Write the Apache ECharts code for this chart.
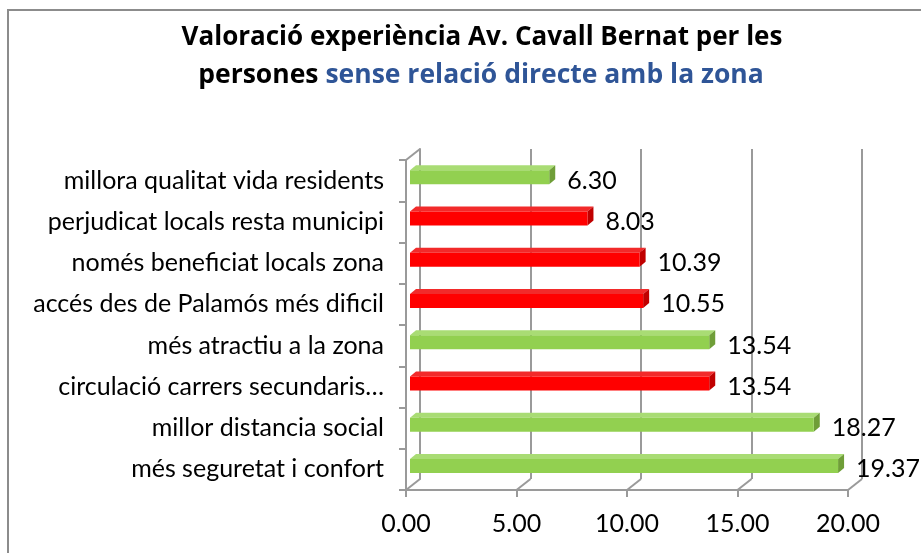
<!DOCTYPE html>
<html>
<head>
<meta charset="utf-8">
<script src="https://cdn.jsdelivr.net/npm/echarts@6/dist/echarts.min.js"></script>
<style>
  html, body { margin: 0; padding: 0; background: #fff; }
  #main { width: 921px; height: 553px; }
</style>
</head>
<body>
<div id="main"></div>
<script>
var categories = [
  "millora qualitat vida residents",
  "perjudicat locals resta municipi",
  "només beneficiat locals zona",
  "accés des de Palamós més dificil",
  "més atractiu a la zona",
  "circulació carrers secundaris…",
  "millor distancia social",
  "més seguretat i confort"
];
var values = [6.30, 8.03, 10.39, 10.55, 13.54, 13.54, 18.27, 19.37];
// 0 = positive (green), 1 = negative (red)
var kinds = [0, 1, 1, 1, 0, 1, 0, 0];
var xTicks = [0, 5, 10, 15, 20];

var FONT = "Lato";
var TITLE_FONT = "Open Sans";
var palette = [
  { front: "#92D050", top: "#a9dc74", side: "#6f9e38" },
  { front: "#FF0000", top: "#f22a2a", side: "#c00000" }
];
// depth offset of the back wall
var DX = 14, DY = -11;

var barData = values.map(function (v, i) {
  return [v, i, kinds[i]];
});
var floorData = xTicks.map(function (t) {
  return [t, 0];
});

function renderBar(params, api) {
  var val = api.value(0);
  var cat = api.value(1);
  var c = palette[api.value(2)];
  var s = api.coord([0, cat]);
  var e = api.coord([val, cat]);
  var cy = s[1];
  var x0 = s[0] + 4, x1 = e[0] + 4;
  var y0 = cy - 10.5, y1 = cy + 3.5;
  var dx = 6, dy = -5;
  return {
    type: "group",
    children: [
      {
        type: "polygon",
        shape: { points: [[x0, y0], [x1, y0], [x1 + dx, y0 + dy], [x0 + dx, y0 + dy]] },
        style: { fill: c.top }
      },
      {
        type: "polygon",
        shape: { points: [[x1, y0], [x1 + dx, y0 + dy], [x1 + dx, y1 + dy], [x1, y1]] },
        style: { fill: c.side }
      },
      {
        type: "rect",
        shape: { x: x0, y: y0, width: x1 - x0, height: y1 - y0 },
        style: { fill: c.front }
      },
      {
        type: "text",
        style: {
          x: x1 + dx + 12,
          y: cy,
          text: val.toFixed(2),
          fill: "#000",
          font: "25px " + FONT,
          verticalAlign: "middle",
          align: "left"
        }
      }
    ]
  };
}

function renderFloor(params, api) {
  var p = api.coord([api.value(0), 0]);
  var cs = params.coordSys;
  var bottom = cs.y + cs.height;
  var lineStyle = { stroke: "#9a9a9a", lineWidth: 2 };
  var children = [
    {
      type: "line",
      shape: { x1: p[0], y1: bottom, x2: p[0] + DX, y2: bottom + DY },
      style: lineStyle
    }
  ];
  if (api.value(0) === 0) {
    children.push({
      type: "line",
      shape: { x1: p[0], y1: cs.y, x2: p[0] + DX, y2: cs.y + DY },
      style: lineStyle
    });
  }
  return { type: "group", children: children };
}

var chart = echarts.init(document.getElementById("main"));

var option = {
  animation: false,
  backgroundColor: "#fff",
  textStyle: { fontFamily: FONT },
  graphic: [
    {
      type: "rect",
      shape: { x: 8, y: 10, width: 1000, height: 1000 },
      style: { fill: "none", stroke: "#8c8c8c", lineWidth: 2 },
      silent: true
    },
    {
      type: "text",
      x: 482,
      y: 38,
      style: {
        text: "Valoració experiència Av. Cavall Bernat per les",
        font: "bold 26px '" + TITLE_FONT + "'",
        fill: "#000",
        align: "center",
        verticalAlign: "middle"
      }
    },
    {
      type: "text",
      x: 481,
      y: 75,
      style: {
        text: "{k|persones }{b|sense relació directe amb la zona}",
        align: "center",
        verticalAlign: "middle",
        rich: {
          k: { fontFamily: TITLE_FONT, fontWeight: "bold", fontSize: 26.5, fill: "#000" },
          b: { fontFamily: TITLE_FONT, fontWeight: "bold", fontSize: 26.5, fill: "#2F5597" }
        }
      }
    }
  ],
  grid: [
    { left: 406, right: 73, top: 160, bottom: 63 },
    { left: 420, right: 59, top: 149, bottom: 74 }
  ],
  xAxis: [
    {
      gridIndex: 0,
      type: "value",
      min: 0,
      max: 20,
      interval: 5,
      axisLine: { show: true, lineStyle: { color: "#9a9a9a", width: 2 } },
      axisTick: { show: true, length: 7, lineStyle: { color: "#9a9a9a", width: 2 } },
      splitLine: { show: false },
      axisLabel: {
        margin: 21,
        fontSize: 25,
        fontFamily: FONT,
        color: "#000",
        formatter: function (v) { return v.toFixed(2); }
      }
    },
    {
      gridIndex: 1,
      type: "value",
      min: 0,
      max: 20,
      interval: 5,
      axisLine: { show: false },
      axisTick: { show: false },
      axisLabel: { show: false },
      splitLine: { show: true, lineStyle: { color: "#9a9a9a", width: 2 } }
    }
  ],
  yAxis: [
    {
      gridIndex: 0,
      type: "category",
      inverse: true,
      data: categories,
      axisLine: { show: true, lineStyle: { color: "#9a9a9a", width: 2 } },
      axisTick: { show: true, length: 7, lineStyle: { color: "#9a9a9a", width: 2 } },
      axisLabel: {
        margin: 22,
        fontSize: 25,
        fontFamily: FONT,
        color: "#000"
      }
    },
    {
      gridIndex: 1,
      type: "category",
      inverse: true,
      data: categories,
      axisLine: { show: true, lineStyle: { color: "#9a9a9a", width: 2 } },
      axisTick: { show: false },
      axisLabel: { show: false },
      splitLine: { show: false }
    }
  ],
  series: [
    {
      type: "custom",
      name: "floor",
      xAxisIndex: 0,
      yAxisIndex: 0,
      data: floorData,
      encode: { x: 0, y: 1 },
      renderItem: renderFloor,
      silent: true,
      z: 1
    },
    {
      type: "custom",
      name: "valoració",
      xAxisIndex: 0,
      yAxisIndex: 0,
      data: barData,
      encode: { x: 0, y: 1 },
      renderItem: renderBar,
      z: 5
    }
  ]
};

chart.setOption(option);
</script>
</body>
</html>
